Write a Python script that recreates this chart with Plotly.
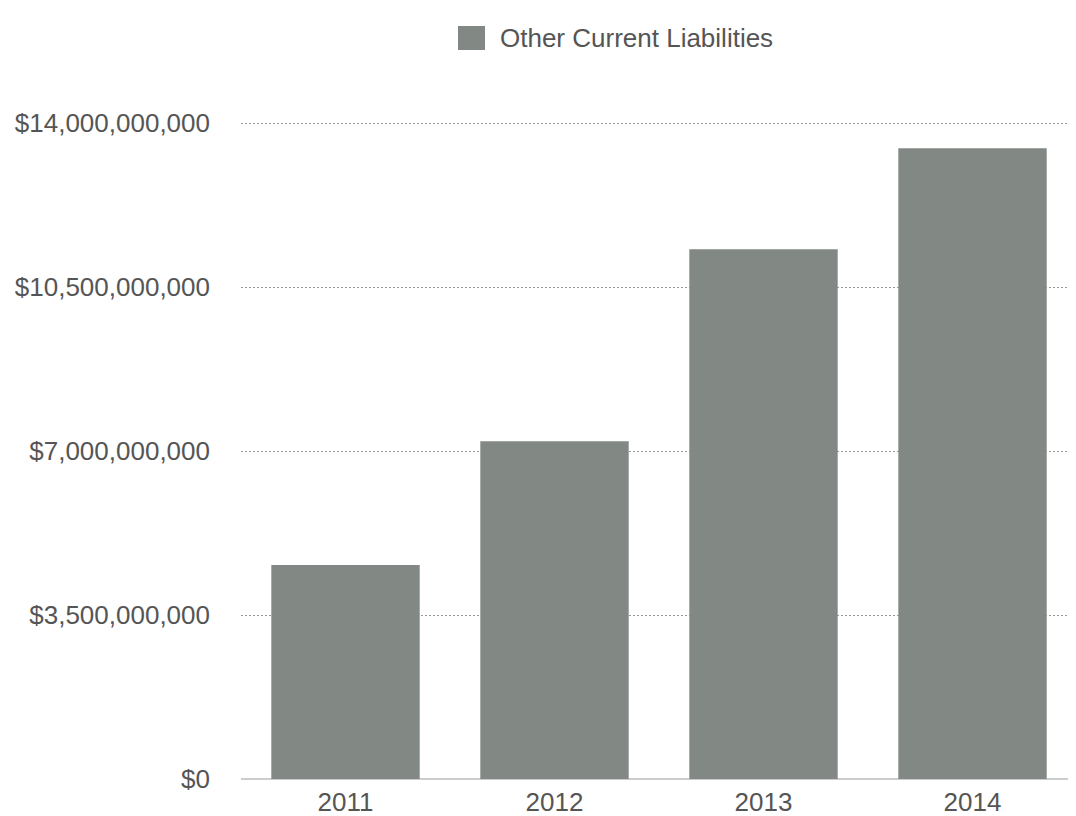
import plotly.graph_objects as go

years = ["2011", "2012", "2013", "2014"]
values = [4.57e9, 7.21e9, 11.31e9, 13.47e9]
tick_vals = [0, 3.5e9, 7e9, 10.5e9, 14e9]
tick_text = ["$0", "$3,500,000,000", "$7,000,000,000", "$10,500,000,000", "$14,000,000,000"]
series_name = "Other Current Liabilities"
bar_color = "#828884"

OFF = 8  # page body margin offset
W, H = 1076, 816
L = 241 - OFF
R = 7
T = 114 - OFF
B = H - (779 - OFF)
pw, ph = W - L - R, H - T - B

def px_x(x):
    return (x - OFF - L) / pw

def px_y(y):
    return (H - B - (y - OFF)) / ph

FS = 26
TXT = "#555555"

fig = go.Figure()
fig.add_trace(go.Bar(
    x=years, y=values, name=series_name,
    marker=dict(color=bar_color, line=dict(width=0)),
    showlegend=False,
))

# legend drawn as swatch + text
fig.add_shape(type="rect", xref="paper", yref="paper",
              x0=px_x(458), x1=px_x(485), y0=px_y(50), y1=px_y(26),
              fillcolor=bar_color, line=dict(width=0))
fig.add_annotation(xref="paper", yref="paper", x=px_x(498), y=px_y(38),
                   xanchor="left", yanchor="middle", showarrow=False,
                   text=series_name, font=dict(size=FS, color=TXT))

fig.update_layout(
    width=W, height=H,
    margin=dict(l=L, r=R, t=T, b=B, autoexpand=False),
    paper_bgcolor="white", plot_bgcolor="white",
    bargap=0.29,
    font=dict(family="Liberation Sans, Arial, sans-serif", size=FS, color=TXT),
    showlegend=False,
    xaxis=dict(showgrid=False, showline=False, ticks="", automargin=False,
               ticklabelstandoff=5,
               tickfont=dict(size=FS, color=TXT)),
    yaxis=dict(range=[0, 14.2e9], tickvals=tick_vals, ticktext=tick_text,
               showgrid=True, gridcolor="#9a9a9a", griddash="2px,2px", gridwidth=1,
               zeroline=True, zerolinecolor="#cccccc", zerolinewidth=2,
               ticks="", ticklen=0, automargin=False, ticklabelstandoff=30,
               tickfont=dict(size=FS, color=TXT)),
)
fig.write_html("out.html")
